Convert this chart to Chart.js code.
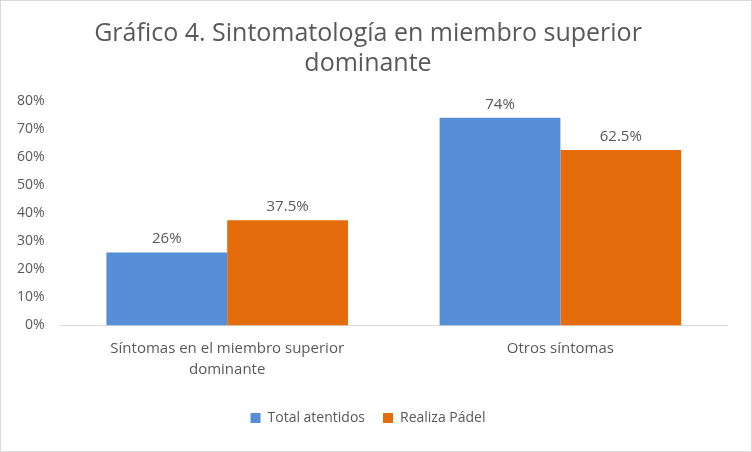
<!DOCTYPE html>
<html><head><meta charset="utf-8">
<script src="https://cdn.jsdelivr.net/npm/chart.js@4"></script>
<style>
html,body{margin:0;padding:0;background:#fff;}
#wrap{position:absolute;left:0;top:0;width:750px;height:450px;border:1px solid #d9d9d9;}
</style></head><body>
<div id="wrap"><canvas id="c" width="750" height="450"></canvas></div>
<script>
const categories = [["Síntomas en el miembro superior","dominante"], "Otros síntomas"];
const totalAtendidos = [26, 74];
const realizaPadel = [37.5, 62.5];
const labelsTotal = ["26%", "74%"];
const labelsPadel = ["37.5%", "62.5%"];
const FONT = "'Open Sans', 'Liberation Sans', sans-serif";
const GRAY = "#595959";
const valueLabels = {
  id: 'valueLabels',
  afterDatasetsDraw(chart) {
    const ctx = chart.ctx;
    ctx.save();
    ctx.font = "15px " + FONT;
    ctx.fillStyle = GRAY;
    ctx.textAlign = 'center';
    ctx.textBaseline = 'bottom';
    const lbls = [labelsTotal, labelsPadel];
    chart.data.datasets.forEach((ds, i) => {
      chart.getDatasetMeta(i).data.forEach((bar, j) => {
        ctx.fillText(lbls[i][j], bar.x, bar.y - 6);
      });
    });
    ctx.restore();
  }
};
new Chart(document.getElementById('c'), {
  type: 'bar',
  data: {
    labels: categories,
    datasets: [
      {label: 'Total atentidos', data: totalAtendidos, backgroundColor: '#558ED5'},
      {label: 'Realiza Pádel', data: realizaPadel, backgroundColor: '#E46C0A'}
    ]
  },
  options: {
    responsive: false, animation: false,
    layout: {padding: {left: 8, right: 24, top: 0, bottom: 16}},
    plugins: {
      title: {display: true, text: ['Gráfico 4. Sintomatología en miembro superior', 'dominante'],
        color: GRAY, font: {family: FONT, size: 25, weight: 'normal'}, padding: {top: 18, bottom: 22}, lineHeight: 1.4},
      legend: {position: 'bottom', labels: {color: GRAY, font: {family: FONT, size: 14}, boxWidth: 10, boxHeight: 10, padding: 18}},
      tooltip: {enabled: false}
    },
    datasets: {bar: {categoryPercentage: 0.725, barPercentage: 1}},
    scales: {
      x: {grid: {display: true, drawOnChartArea: false, drawTicks: false, color: '#d9d9d9'}, border: {color: '#d9d9d9'},
        ticks: {color: GRAY, font: {family: FONT, size: 15, lineHeight: 1.45}, padding: 12}},
      y: {min: 0, max: 80, grid: {display: false}, border: {display: false},
        ticks: {stepSize: 10, color: GRAY, font: {family: FONT, size: 14}, callback: v => v + '%', padding: 8}}
    }
  },
  plugins: [valueLabels]
});
</script></body></html>
